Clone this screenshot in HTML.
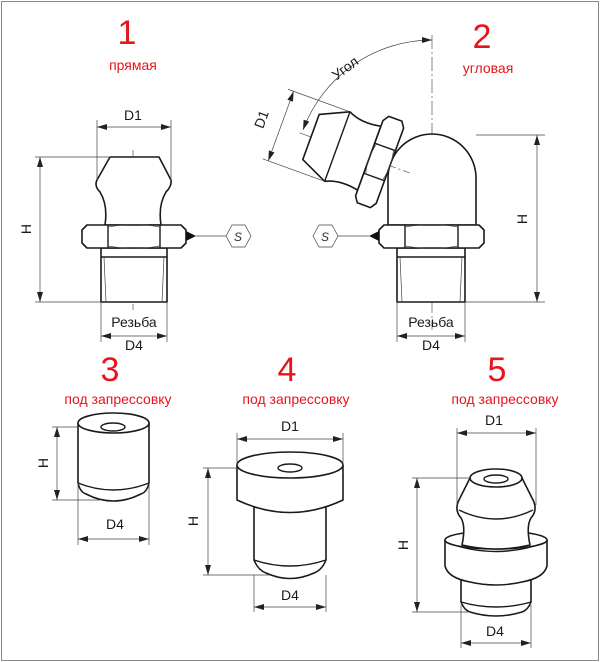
<!DOCTYPE html>
<html><head><meta charset="utf-8"><style>
html,body{margin:0;padding:0;background:#fff}
svg{display:block}
text{font-family:"Liberation Sans",sans-serif}
.o{fill:#fff;stroke:#1a1a1a;stroke-width:1.6;stroke-linejoin:round}
.ol{fill:none;stroke:#1a1a1a;stroke-width:1.4}
.d{fill:none;stroke:#444;stroke-width:0.7}
.c{fill:none;stroke:#555;stroke-width:0.7;stroke-dasharray:14 3 2 3}
.t{font-size:14px;fill:#1a1a1a}
.r{fill:#e8141c}
</style></head><body>
<svg width="600" height="662" viewBox="0 0 600 662" xmlns="http://www.w3.org/2000/svg">
<defs>
<marker id="a" viewBox="0 0 10 6" refX="10" refY="3" markerWidth="10" markerHeight="6" orient="auto-start-reverse" markerUnits="userSpaceOnUse"><path d="M0,0 L10,3 L0,6 z" fill="#222"/></marker>
</defs>
<rect x="1.5" y="1.5" width="597" height="659" fill="none" stroke="#888" stroke-width="1"/>

<!-- titles -->
<text x="127" y="44" font-size="34" class="r" text-anchor="middle">1</text>
<text x="133" y="70" font-size="14" class="r" text-anchor="middle">прямая</text>
<text x="482" y="48" font-size="34" class="r" text-anchor="middle">2</text>
<text x="488" y="73" font-size="14" class="r" text-anchor="middle">угловая</text>
<text x="110" y="381" font-size="34" class="r" text-anchor="middle">3</text>
<text x="118" y="404" font-size="14" class="r" text-anchor="middle">под запрессовку</text>
<text x="287" y="381" font-size="34" class="r" text-anchor="middle">4</text>
<text x="296" y="404" font-size="14" class="r" text-anchor="middle">под запрессовку</text>
<text x="497" y="381" font-size="34" class="r" text-anchor="middle">5</text>
<text x="505" y="404" font-size="14" class="r" text-anchor="middle">под запрессовку</text>

<!-- FIG 1 -->
<line class="c" x1="133" y1="150" x2="133" y2="310"/>
<path class="o" d="M110,157 L159,157 L171,180 Q172,186 166,192 Q158,205 161,225 L105,225 Q108,205 100,192 Q94,186 97,180 Z"/>
<path class="o" d="M101,248 L167,248 L167,302 L101,302 Z"/>
<line class="ol" x1="101" y1="257" x2="167" y2="257"/>
<line class="d" x1="104" y1="257" x2="106" y2="302"/><line class="d" x1="164" y1="257" x2="162" y2="302"/>
<path class="o" d="M87,225 L181,225 L186,230 L186,243 L181,248 L87,248 L82,243 L82,230 Z"/>
<line class="ol" x1="108" y1="225" x2="108" y2="248"/><line class="ol" x1="160" y1="225" x2="160" y2="248"/>
<path class="d" d="M108,227 Q134,222 160,227 M108,246 Q134,251 160,246"/>
<path d="M186,231 L196,236 L186,241 Z" fill="#111"/>
<line class="d" x1="196" y1="236" x2="226" y2="236"/>
<path class="d" d="M226,236 L232,225 L245,225 L251,236 L245,247 L232,247 Z"/>
<text x="238" y="241" font-size="12" font-style="italic" fill="#333" text-anchor="middle">S</text>
<line class="d" x1="97" y1="120" x2="97" y2="180"/><line class="d" x1="171" y1="120" x2="171" y2="180"/>
<line class="d" x1="97" y1="127" x2="171" y2="127" marker-start="url(#a)" marker-end="url(#a)"/>
<text x="133" y="120" class="t" text-anchor="middle">D1</text>
<line class="d" x1="35" y1="157" x2="110" y2="157"/><line class="d" x1="35" y1="302" x2="101" y2="302"/>
<line class="d" x1="40" y1="157" x2="40" y2="302" marker-start="url(#a)" marker-end="url(#a)"/>
<text x="0" y="0" class="t" text-anchor="middle" transform="translate(31,229) rotate(-90)">H</text>
<line class="d" x1="101" y1="302" x2="101" y2="342"/><line class="d" x1="167" y1="302" x2="167" y2="342"/>
<text x="134" y="327" class="t" text-anchor="middle">Резьба</text>
<line class="d" x1="101" y1="336" x2="167" y2="336" marker-start="url(#a)" marker-end="url(#a)"/>
<text x="134" y="350" class="t" text-anchor="middle">D4</text>

<!-- FIG 2 -->
<line class="c" x1="432" y1="35" x2="432" y2="330"/>
<path class="o" d="M388,225 L388,178 A44,44 0 0 1 476,178 L476,225 Z"/>
<path class="o" d="M397,248 L465,248 L465,302 L397,302 Z"/>
<line class="ol" x1="397" y1="257" x2="465" y2="257"/>
<line class="d" x1="400" y1="257" x2="402" y2="302"/><line class="d" x1="462" y1="257" x2="460" y2="302"/>
<path class="o" d="M384,225 L479,225 L484,230 L484,243 L479,248 L384,248 L379,243 L379,230 Z"/>
<line class="ol" x1="405" y1="225" x2="405" y2="248"/><line class="ol" x1="458" y1="225" x2="458" y2="248"/>
<path class="d" d="M405,227 Q432,222 458,227 M405,246 Q432,251 458,246"/>
<path d="M379,231 L369,236 L379,241 Z" fill="#111"/>
<line class="d" x1="338" y1="236" x2="369" y2="236"/>
<path class="d" d="M313,236 L319,225 L332,225 L338,236 L332,247 L319,247 Z"/>
<text x="325" y="241" font-size="12" font-style="italic" fill="#333" text-anchor="middle">S</text>
<line class="d" x1="476" y1="135" x2="545" y2="135"/><line class="d" x1="465" y1="302" x2="545" y2="302"/>
<line class="d" x1="537" y1="135" x2="537" y2="302" marker-start="url(#a)" marker-end="url(#a)"/>
<text x="0" y="0" class="t" text-anchor="middle" transform="translate(527,219) rotate(-90)">H</text>
<line class="d" x1="397" y1="302" x2="397" y2="342"/><line class="d" x1="465" y1="302" x2="465" y2="342"/>
<text x="431" y="327" class="t" text-anchor="middle">Резьба</text>
<line class="d" x1="397" y1="336" x2="465" y2="336" marker-start="url(#a)" marker-end="url(#a)"/>
<text x="431" y="350" class="t" text-anchor="middle">D4</text>
<!-- angled nozzle -->
<g transform="translate(311,137) rotate(20)">
<line class="c" x1="-12" y1="0" x2="105" y2="0"/>
<path class="o" d="M0,-24 L28,-37 Q42,-30 62,-34 L62,34 Q42,30 28,37 L0,24 Z"/>
<line class="ol" x1="28" y1="-37" x2="28" y2="37"/>
<path class="o" d="M62,-40 L66,-46 L80,-46 L84,-40 L84,40 L80,46 L66,46 L62,40 Z"/>
<line class="ol" x1="62" y1="-16" x2="84" y2="-16"/><line class="ol" x1="62" y1="16" x2="84" y2="16"/>
<path class="d" d="M64,-16 Q60,0 64,16 M82,-16 Q86,0 82,16"/>
<line class="d" x1="-38" y1="-42" x2="28" y2="-42" transform="translate(0,5)"/>
<line class="d" x1="-38" y1="37" x2="28" y2="37"/>
<line class="d" x1="-32" y1="-37" x2="-32" y2="37" marker-start="url(#a)" marker-end="url(#a)"/>
</g>
<text x="0" y="0" class="t" text-anchor="middle" transform="translate(266,121) rotate(-70)">D1</text>
<path class="d" d="M432,40 A138,138 0 0 0 303,130" marker-start="url(#a)" marker-end="url(#a)"/>
<text x="0" y="0" class="t" text-anchor="middle" transform="translate(348,72) rotate(-37)">Угол</text>

<!-- FIG 3 -->
<path class="o" d="M78,423 L78,483 Q80,492 86,494 Q113,508 141,494 Q147,492 149,483 L149,423 Z"/>
<path class="ol" d="M78,483 Q113,497 149,483"/>
<ellipse class="o" cx="113.5" cy="423" rx="35.5" ry="10"/>
<ellipse class="ol" cx="113" cy="427" rx="12" ry="4"/>
<line class="d" x1="52" y1="427" x2="78" y2="427"/><line class="d" x1="52" y1="500" x2="100" y2="500"/>
<line class="d" x1="57" y1="427" x2="57" y2="500" marker-start="url(#a)" marker-end="url(#a)"/>
<text x="0" y="0" class="t" text-anchor="middle" transform="translate(48,463) rotate(-90)">H</text>
<line class="d" x1="78" y1="483" x2="78" y2="545"/><line class="d" x1="149" y1="483" x2="149" y2="545"/>
<line class="d" x1="78" y1="539" x2="149" y2="539" marker-start="url(#a)" marker-end="url(#a)"/>
<text x="115" y="529" class="t" text-anchor="middle">D4</text>

<!-- FIG 4 -->
<path class="o" d="M254,505 L254,560 Q258,570 266,573 Q290,584 314,573 Q322,570 326,560 L326,505 Z"/>
<path class="ol" d="M254,560 Q290,572 326,560"/>
<path class="o" d="M237,465 L237,500 Q290,525 343,500 L343,465 Z"/>
<ellipse class="o" cx="290" cy="465" rx="53" ry="13"/>
<ellipse class="ol" cx="290" cy="468" rx="12" ry="4"/>
<line class="d" x1="237" y1="433" x2="237" y2="465"/><line class="d" x1="343" y1="433" x2="343" y2="465"/>
<line class="d" x1="237" y1="439" x2="343" y2="439" marker-start="url(#a)" marker-end="url(#a)"/>
<text x="290" y="431" class="t" text-anchor="middle">D1</text>
<line class="d" x1="203" y1="468" x2="237" y2="468"/><line class="d" x1="203" y1="575" x2="270" y2="575"/>
<line class="d" x1="208" y1="468" x2="208" y2="575" marker-start="url(#a)" marker-end="url(#a)"/>
<text x="0" y="0" class="t" text-anchor="middle" transform="translate(198,521) rotate(-90)">H</text>
<line class="d" x1="254" y1="575" x2="254" y2="612"/><line class="d" x1="326" y1="575" x2="326" y2="612"/>
<line class="d" x1="254" y1="607" x2="326" y2="607" marker-start="url(#a)" marker-end="url(#a)"/>
<text x="290" y="600" class="t" text-anchor="middle">D4</text>

<!-- FIG 5 -->
<path class="o" d="M461,575 L461,602 Q464,610 470,612 Q496,620 522,612 Q528,610 531,602 L531,575 Z"/>
<path class="ol" d="M461,602 Q496,612 531,602"/>
<path class="o" d="M445,540 L445,566 Q448,578 470,582 Q496,588 522,582 Q544,578 547,566 L547,540 Z"/>
<ellipse class="o" cx="496" cy="540" rx="51" ry="9"/>
<path class="ol" d="M448,543 Q496,560 544,543"/>
<path class="o" d="M470,478 L522,478 L533,500 Q538,510 531,518 Q526,526 530,545 Q496,553 462,545 Q466,526 461,518 Q454,510 459,500 Z"/>
<path class="ol" d="M459,510 Q496,528 533,510"/>
<ellipse class="o" cx="496" cy="478" rx="26" ry="9"/>
<ellipse class="ol" cx="496" cy="479" rx="12" ry="4"/>
<line class="d" x1="457" y1="428" x2="457" y2="505"/><line class="d" x1="536" y1="428" x2="536" y2="505"/>
<line class="d" x1="457" y1="433" x2="536" y2="433" marker-start="url(#a)" marker-end="url(#a)"/>
<text x="494" y="425" class="t" text-anchor="middle">D1</text>
<line class="d" x1="412" y1="478" x2="470" y2="478"/><line class="d" x1="412" y1="612" x2="470" y2="612"/>
<line class="d" x1="417" y1="478" x2="417" y2="612" marker-start="url(#a)" marker-end="url(#a)"/>
<text x="0" y="0" class="t" text-anchor="middle" transform="translate(408,545) rotate(-90)">H</text>
<line class="d" x1="461" y1="605" x2="461" y2="648"/><line class="d" x1="531" y1="605" x2="531" y2="648"/>
<line class="d" x1="461" y1="643" x2="531" y2="643" marker-start="url(#a)" marker-end="url(#a)"/>
<text x="495" y="636" class="t" text-anchor="middle">D4</text>
</svg>
</body></html>
